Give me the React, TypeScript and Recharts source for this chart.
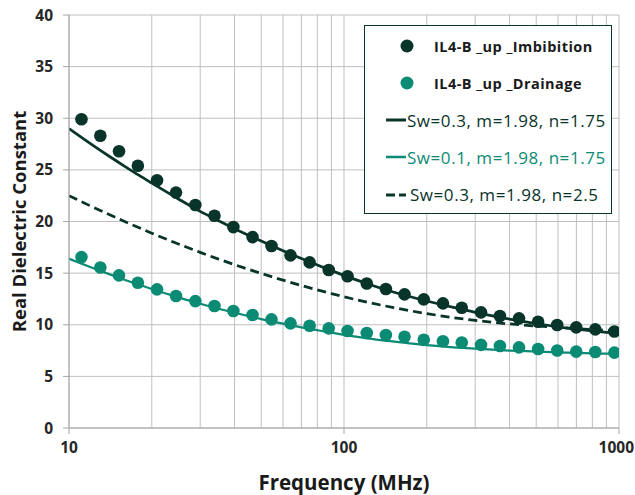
import React from "react";
import {
  ComposedChart,
  Line,
  Scatter,
  XAxis,
  YAxis,
  CartesianGrid,
  ReferenceLine,
} from "recharts";

// Measured frequencies (MHz)
const FREQ = [11.1, 13.0, 15.2, 17.8, 20.9, 24.5, 28.8, 33.8, 39.6, 46.5, 54.5, 63.9, 75.0, 88.0, 103, 121, 142, 166, 195, 229, 268, 315, 369, 433, 508, 596, 699, 820, 962];
const IMBIBITION = [29.9, 28.3, 26.8, 25.4, 24.0, 22.8, 21.6, 20.55, 19.46, 18.49, 17.62, 16.72, 16.04, 15.3, 14.7, 14.0, 13.46, 12.94, 12.46, 12.07, 11.65, 11.2, 10.84, 10.62, 10.29, 9.97, 9.75, 9.55, 9.35];
const DRAINAGE = [16.55, 15.55, 14.78, 14.07, 13.43, 12.78, 12.29, 11.81, 11.33, 10.94, 10.52, 10.13, 9.9, 9.65, 9.4, 9.2, 9.0, 8.84, 8.55, 8.4, 8.28, 8.05, 7.94, 7.81, 7.65, 7.5, 7.4, 7.36, 7.3];

// Model curves
const MODEL_FREQ = [10, 12, 14, 16, 18, 20, 25, 30, 35, 40, 50, 60, 70, 80, 90, 100, 120, 150, 200, 250, 300, 400, 500, 600, 700, 800, 900, 1000];
const MODEL_SW03_N175 = [29.0, 27.52, 26.32, 25.32, 24.46, 23.72, 22.18, 20.98, 20.07, 19.3, 18.1, 17.16, 16.41, 15.78, 15.24, 14.78, 14.02, 13.2, 12.3, 11.68, 11.2, 10.55, 10.12, 9.8, 9.57, 9.4, 9.27, 9.17];
const MODEL_SW01_N175 = [16.4, 15.57, 14.9, 14.34, 13.87, 13.46, 12.65, 12.03, 11.55, 11.16, 10.55, 10.1, 9.75, 9.47, 9.23, 9.03, 8.71, 8.38, 8.03, 7.82, 7.68, 7.5, 7.4, 7.32, 7.27, 7.23, 7.2, 7.17];
const MODEL_SW03_N25 = [22.5, 21.49, 20.67, 19.98, 19.39, 18.87, 17.82, 17.01, 16.36, 15.82, 14.97, 14.32, 13.8, 13.38, 13.02, 12.71, 12.22, 11.68, 11.08, 10.69, 10.42, 10.08, 9.88, 9.74, 9.63, 9.54, 9.47, 9.41];

const X_TICKS = [10, 100, 1000];
const X_MINOR = [20, 30, 40, 50, 60, 70, 80, 90, 200, 300, 400, 500, 600, 700, 800, 900];
const Y_TICKS = [0, 5, 10, 15, 20, 25, 30, 35, 40];

const LEGEND_LABELS = [
  "IL4-B _up _Imbibition",
  "IL4-B _up _Drainage",
  "Sw=0.3, m=1.98, n=1.75",
  "Sw=0.1, m=1.98, n=1.75",
  "Sw=0.3, m=1.98, n=2.5",
];

const DARK = "#08342a";
const TEAL = "#0b8a74";
const GRID = "#bfbfbf";
const AXIS = "#a6a6a6";
const FONT = "'Open Sans', 'Liberation Sans', sans-serif";

const toPts = (xs: number[], ys: number[]) => xs.map((f, i) => ({ f, v: ys[i] }));

const imbData = toPts(FREQ, IMBIBITION);
const drnData = toPts(FREQ, DRAINAGE);
const m1 = toPts(MODEL_FREQ, MODEL_SW03_N175);
const m2 = toPts(MODEL_FREQ, MODEL_SW01_N175);
const m3 = toPts(MODEL_FREQ, MODEL_SW03_N25);

const tickStyle = { fontFamily: FONT, fontSize: 15.5, fontWeight: 700, fill: "#262626" };

const XTick = (props: any) => {
  const { x, y, payload } = props;
  const isLast = payload.value === X_TICKS[X_TICKS.length - 1];
  return (
    <text
      x={isLast ? 634 : x}
      y={y + 11}
      textAnchor={isLast ? "end" : "middle"}
      dominantBaseline="central"
      {...tickStyle}
    >
      {payload.value}
    </text>
  );
};

const LegendBox = () => (
  <div
    style={{
      position: "absolute",
      left: 364,
      top: 25,
      width: 248,
      height: 189,
      border: `1.5px solid ${DARK}`,
      background: "#fff",
      boxSizing: "border-box",
      fontFamily: FONT,
    }}
  >
    <svg width={248} height={189} style={{ position: "absolute", left: 0, top: 0 }}>
      <circle cx={42} cy={20} r={6.5} fill={DARK} />
      <circle cx={42} cy={57} r={6.5} fill={TEAL} />
      <line x1={21} x2={41} y1={94} y2={94} stroke={DARK} strokeWidth={3} />
      <line x1={21} x2={41} y1={131} y2={131} stroke={TEAL} strokeWidth={2.5} />
      <line x1={21} x2={41} y1={169} y2={169} stroke={DARK} strokeWidth={3} strokeDasharray="9 4" />
      <text x={69} y={20} dominantBaseline="central" fontSize={14.5} letterSpacing={0.45} fontWeight={700} fill="#1a1a1a" fontFamily={FONT}>{LEGEND_LABELS[0]}</text>
      <text x={69} y={57} dominantBaseline="central" fontSize={14.5} letterSpacing={0.45} fontWeight={700} fill="#1a1a1a" fontFamily={FONT}>{LEGEND_LABELS[1]}</text>
      <text x={42} y={94} dominantBaseline="central" fontSize={17} letterSpacing={0.55} fill={DARK} fontFamily={FONT}>{LEGEND_LABELS[2]}</text>
      <text x={42} y={131} dominantBaseline="central" fontSize={17} letterSpacing={0.55} fill={TEAL} fontFamily={FONT}>{LEGEND_LABELS[3]}</text>
      <text x={45} y={168} dominantBaseline="central" fontSize={17} letterSpacing={0.55} fill={DARK} fontFamily={FONT}>{LEGEND_LABELS[4]}</text>
    </svg>
  </div>
);

export default function App() {
  return (
    <div style={{ position: "absolute", left: 0, top: 0, width: 635, height: 495, background: "#fff" }}>
      <ComposedChart
        width={635}
        height={495}
        margin={{ top: 15, right: 16, bottom: 0, left: 0 }}
      >
        <CartesianGrid stroke={GRID} strokeWidth={1} horizontal vertical />
        {X_MINOR.map((x) => (
          <ReferenceLine key={x} x={x} stroke={GRID} strokeWidth={1} ifOverflow="visible" />
        ))}
        <XAxis
          type="number"
          dataKey="f"
          scale="log"
          domain={[10, 1000]}
          ticks={X_TICKS}
          allowDataOverflow
          height={67}
          stroke={AXIS}
          tickLine={{ stroke: AXIS }}
          tickSize={6}
          tick={<XTick />}
          label={{
            content: ({ viewBox }: any) => (
              <text
                x={viewBox.x + viewBox.width / 2}
                y={482}
                textAnchor="middle"
                dominantBaseline="central"
                fontFamily={FONT}
                fontSize={20.5}
                fontWeight={700}
                fill="#1a1a1a"
              >
                Frequency (MHz)
              </text>
            ),
          }}
        />
        <YAxis
          type="number"
          dataKey="v"
          domain={[0, 40]}
          ticks={Y_TICKS}
          width={69}
          stroke={AXIS}
          tickLine={{ stroke: AXIS }}
          tickSize={6}
          tick={tickStyle}
          tickMargin={10}
          allowDataOverflow
          label={{
            content: ({ viewBox }: any) => {
              const cy = viewBox.y + viewBox.height / 2;
              return (
                <text
                  x={18}
                  y={cy}
                  textAnchor="middle"
                  dominantBaseline="central"
                  transform={`rotate(-90, 18, ${cy})`}
                  fontFamily={FONT}
                  fontSize={18.5}
                  fontWeight={700}
                  fill="#1a1a1a"
                >
                  Real Dielectric Constant
                </text>
              );
            },
          }}
        />
        <Line data={m3} dataKey="v" type="monotone" stroke={DARK} strokeWidth={2.75} strokeDasharray="9 5" dot={false} isAnimationActive={false} />
        <Line data={m2} dataKey="v" type="monotone" stroke={TEAL} strokeWidth={2.25} dot={false} isAnimationActive={false} />
        <Line data={m1} dataKey="v" type="monotone" stroke={DARK} strokeWidth={2.75} dot={false} isAnimationActive={false} />
        <Scatter
          data={imbData}
          dataKey="v"
          fill={DARK}
          isAnimationActive={false}
          shape={(p: any) => <circle cx={p.cx} cy={p.cy} r={6.3} fill={DARK} />}
        />
        <Scatter
          data={drnData}
          dataKey="v"
          fill={TEAL}
          isAnimationActive={false}
          shape={(p: any) => <circle cx={p.cx} cy={p.cy} r={6.3} fill={TEAL} />}
        />
      </ComposedChart>
      <LegendBox />
    </div>
  );
}
